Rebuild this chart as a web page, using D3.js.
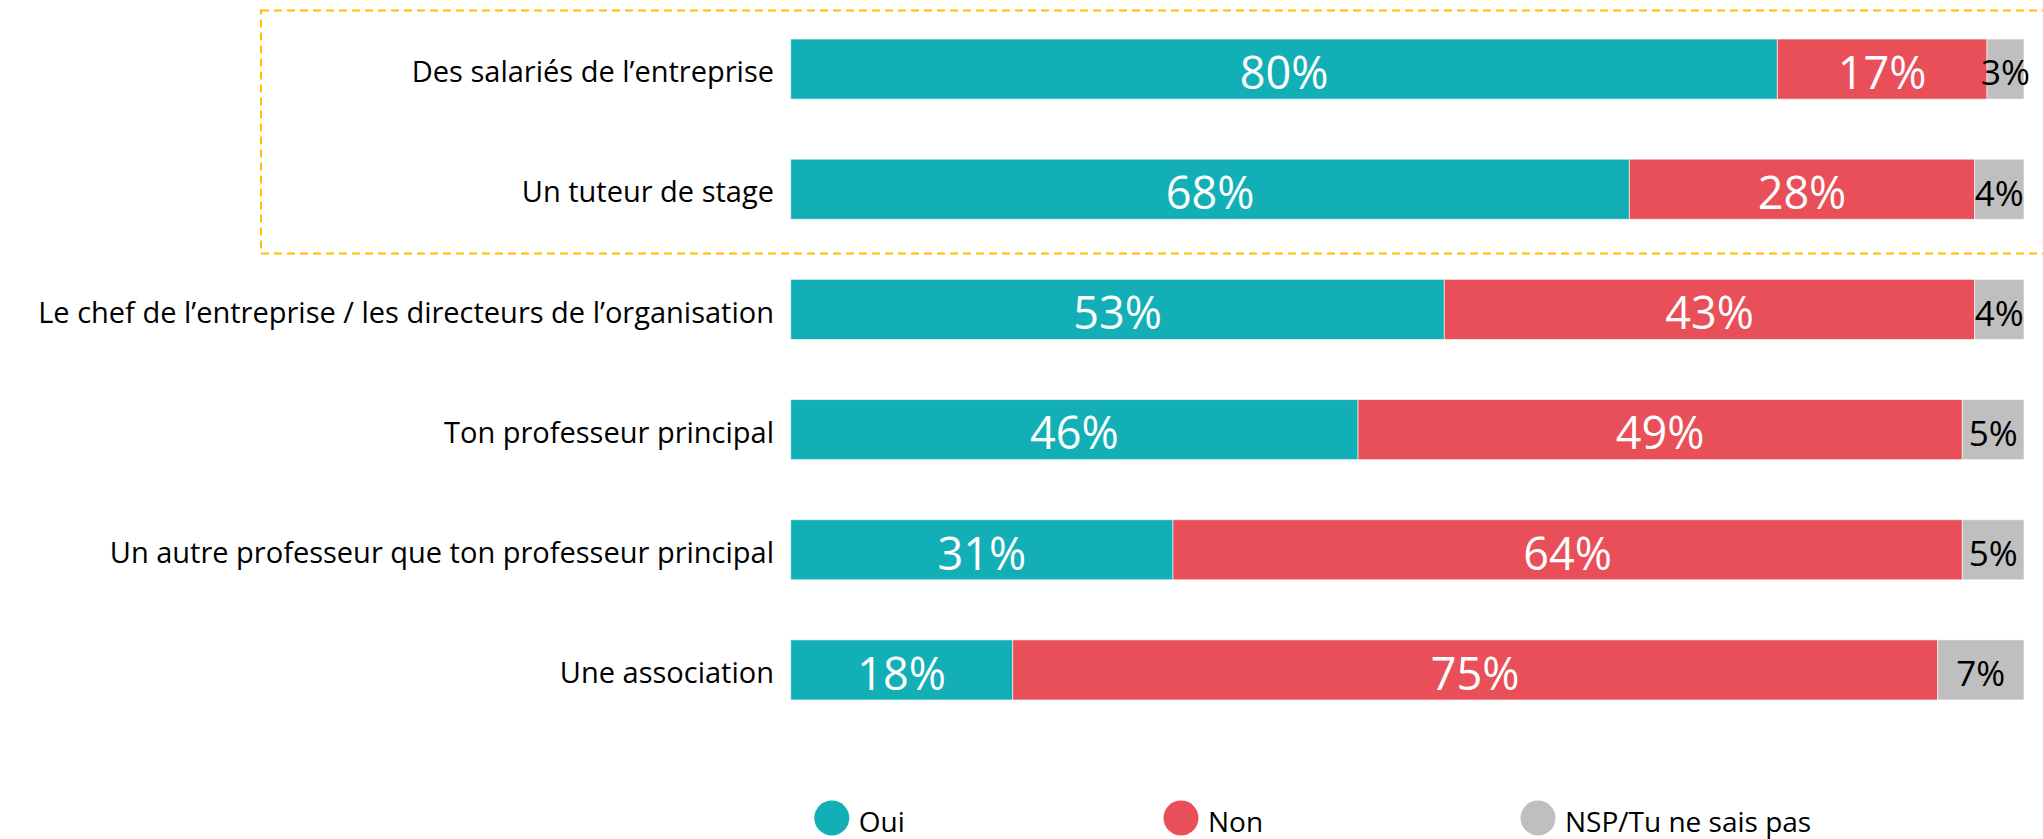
<!DOCTYPE html>
<html>
<head>
<meta charset="utf-8">
<script src="https://cdn.jsdelivr.net/npm/d3@7"></script>
<style>
  body { margin: 0; background: #fff; }
  svg { display: block; font-family: "Open Sans", "Noto Sans", sans-serif; }
</style>
</head>
<body>
<div id="main-chart"></div>
<script>
var categories = [
  "Des salariés de l’entreprise",
  "Un tuteur de stage",
  "Le chef de l’entreprise / les directeurs de l’organisation",
  "Ton professeur principal",
  "Un autre professeur que ton professeur principal",
  "Une association"
];
var oui = [80, 68, 53, 46, 31, 18];
var non = [17, 28, 43, 49, 64, 75];
var nsp = [3, 4, 4, 5, 5, 7];
var seriesNames = ["Oui", "Non", "NSP/Tu ne sais pas"];
var colors = ["#13afb6", "#e84f58", "#bfbfbf"];
var textColors = ["#fff", "#fff", "#000"];

var width = 2043, height = 839;

var svg = d3.select("#main-chart")
  .append("svg")
  .attr("width", width)
  .attr("height", height);

var rows = categories.map(function(c, i) {
  return { cat: c, Oui: oui[i], Non: non[i], NSP: nsp[i] };
});
var stack = d3.stack().keys(["Oui", "Non", "NSP"])(rows);

var x = d3.scaleLinear().domain([0, 100]).range([790.7, 2024]);
var y = d3.scaleBand().domain(categories).range([9, 730]).paddingInner(0.5).paddingOuter(0.25);

// highlight box round the two first rows
svg.append("rect")
  .attr("x", 261)
  .attr("y", 10.5)
  .attr("width", 1800)
  .attr("height", 243)
  .attr("fill", "none")
  .attr("stroke", "#ffc000")
  .attr("stroke-width", 2)
  .attr("stroke-dasharray", "8,5");

var layers = svg.append("g").selectAll("g")
  .data(stack)
  .enter().append("g")
  .attr("fill", function(d, i) { return colors[i]; });

layers.selectAll("rect")
  .data(function(d) { return d; })
  .enter().append("rect")
  .attr("x", function(d) { return x(d[0]); })
  .attr("y", function(d) { return y(d.data.cat); })
  .attr("width", function(d) { return x(d[1]) - x(d[0]); })
  .attr("height", y.bandwidth())
  .attr("stroke", "#fff")
  .attr("stroke-opacity", 0.6)
  .attr("stroke-width", 1);

layers.selectAll("text")
  .data(function(d) { return d; })
  .enter().append("text")
  .attr("x", function(d) { return (x(d[0]) + x(d[1])) / 2; })
  .attr("y", function(d) { return y(d.data.cat) + y.bandwidth() / 2 + 4; })
  .attr("dy", "0.35em")
  .attr("text-anchor", "middle")
  .attr("font-size", function() { return this.parentNode.__data__.index === 2 ? 35 : 45; })
  .attr("fill", function() { return textColors[this.parentNode.__data__.index]; })
  .text(function(d) { return (d[1] - d[0]) + "%"; });

// category labels
var yAxis = svg.append("g")
  .attr("transform", "translate(774,3)")
  .call(d3.axisLeft(y).tickSize(0).tickPadding(0));
yAxis.select(".domain").remove();
yAxis.selectAll("text")
  .attr("font-size", 29)
  .attr("font-family", "'Open Sans', sans-serif")
  .attr("fill", "#000")
  .attr("dy", "0.35em");

// legend
var legendX = [831.8, 1181, 1538];
var legend = svg.append("g").selectAll("g")
  .data(seriesNames)
  .enter().append("g")
  .attr("transform", function(d, i) { return "translate(" + legendX[i] + ",818)"; });
legend.append("circle")
  .attr("r", 17.5)
  .attr("fill", function(d, i) { return colors[i]; });
legend.append("text")
  .attr("x", 27)
  .attr("y", 4)
  .attr("dy", "0.35em")
  .attr("font-size", 28)
  .attr("fill", "#000")
  .text(function(d) { return d; });
</script>
</body>
</html>
